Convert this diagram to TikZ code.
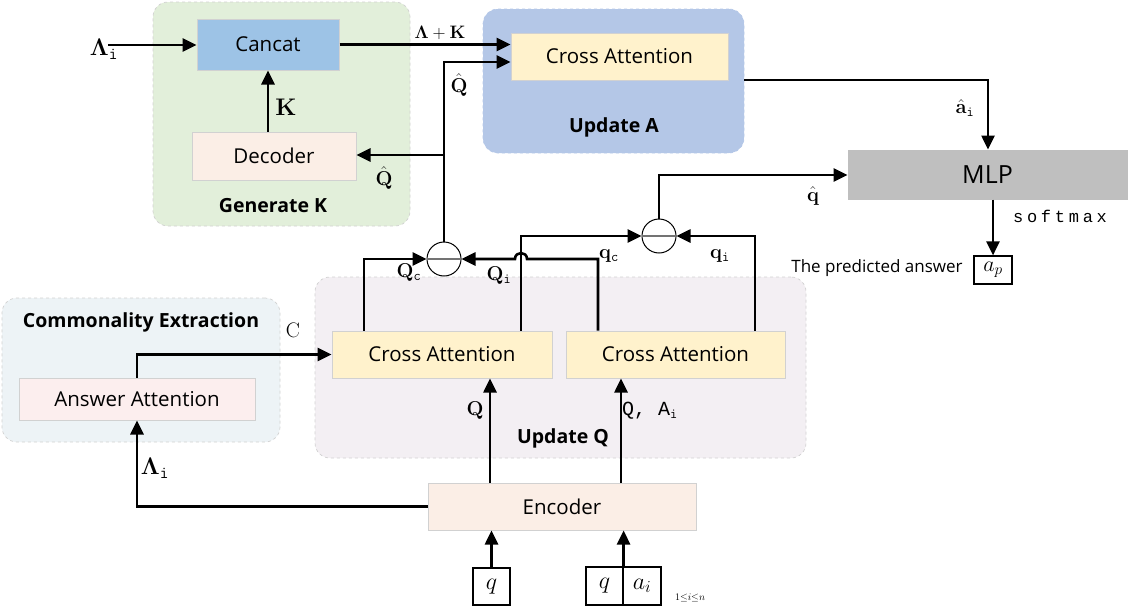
\RequirePackage{fix-cm}
\documentclass[tikz,border=0pt]{standalone}
\usepackage{amsmath}
\usepackage[no-math]{fontspec}
\setmainfont{Open Sans}
\newfontfamily\spmono{Liberation Mono}[LetterSpace=22.0]
\newfontfamily\qmono{Liberation Mono}
\usetikzlibrary{arrows.meta,calc}
\definecolor{gK}{HTML}{E2EFDA}
\definecolor{cancatC}{HTML}{9DC3E6}
\definecolor{decC}{HTML}{FBEEE6}
\definecolor{uA}{HTML}{B4C7E7}
\definecolor{caC}{HTML}{FFF2CC}
\definecolor{mlpC}{HTML}{BFBFBF}
\definecolor{uQ}{HTML}{F3EFF3}
\definecolor{ceC}{HTML}{EDF3F6}
\definecolor{ansC}{HTML}{FCEEEE}
\tikzset{
  grp/.style={rounded corners=15pt, draw=black!18, dashed, line width=0.7pt},
  blk/.style={draw=black!18, line width=1pt, inner sep=0pt, font=\fontsize{20.5}{22}\selectfont},
  ttl/.style={font=\fontsize{19.5}{21}\selectfont\bfseries},
  lbl/.style={font=\fontsize{20}{21}\selectfont, inner sep=0pt},
  big/.style={font=\fontsize{24}{25}\selectfont, inner sep=0pt},
  conn/.style={line width=2.6pt, -{Triangle[length=14pt,width=13pt]}},
  sm/.style={draw=black, line width=1.2pt, inner sep=0pt, fill=white}
}
\begin{document}
\begin{tikzpicture}[x=1pt,y=-1pt]
\useasboundingbox (0,0) rectangle (1129,608);
% groups
\node[grp, fill=gK, minimum width=257pt, minimum height=224pt] (genK) at (281.5,114) {};
\node[grp, fill=uA, minimum width=261pt, minimum height=144pt, draw=uA] (updA) at (613.5,81) {};
\node[grp, fill=uQ, minimum width=491pt, minimum height=181pt] (updQ) at (560.5,367.5) {};
\node[grp, fill=ceC, minimum width=278pt, minimum height=144pt] (comE) at (141,370) {};
% titles
\node[ttl] (tGK) at (273,206) {Generate K};
\node[ttl] (tUA) at (614,127) {Update A};
\node[ttl] (tUQ) at (563,438) {Update Q};
\node[ttl] (tCE) at (141,322) {Commonality Extraction};
% blocks
\node[blk, fill=cancatC, minimum width=142pt, minimum height=51pt] (cancat) at (268,44.5) {Cancat};
\node[blk, fill=decC, minimum width=164pt, minimum height=48pt] (decoder) at (274,156) {Decoder};
\node[blk, fill=caC, minimum width=217pt, minimum height=47pt] (caA) at (619.5,56.5) {Cross Attention};
\node[blk, fill=mlpC, draw=mlpC, minimum width=279pt, minimum height=49pt, font=\fontsize{25}{27}\selectfont] (mlp) at (987.5,174.5) {MLP};
\node[blk, fill=caC, minimum width=220pt, minimum height=47pt] (ca1) at (442,354.5) {Cross Attention};
\node[blk, fill=caC, minimum width=219pt, minimum height=47pt] (ca2) at (675.5,354.5) {Cross Attention};
\node[blk, fill=decC, minimum width=268pt, minimum height=47pt] (enc) at (562,506.5) {Encoder};
\node[blk, fill=ansC, minimum width=236pt, minimum height=42pt] (ans) at (137,399) {Answer Attention};
% small boxes
\node[sm, minimum width=38pt, minimum height=28pt, font=\fontsize{22}{22}\selectfont] (ap) at (993,270) {$a_p$};
\node[sm, minimum width=37pt, minimum height=37pt, font=\fontsize{24}{24}\selectfont] (qb) at (491.5,586.5) {$q$};
\node[sm, minimum width=37pt, minimum height=38pt, font=\fontsize{24}{24}\selectfont] (qa1) at (604.5,586) {$q$};
\node[sm, minimum width=38pt, minimum height=38pt, font=\fontsize{24}{24}\selectfont] (qa2) at (642,586) {$a_i$};
% circles
\node[circle, draw=black, line width=1pt, minimum size=34pt, inner sep=0pt, fill=white] (c1) at (444,259) {};
\node[circle, draw=black, line width=1pt, minimum size=34pt, inner sep=0pt, fill=white] (c2) at (659,236) {};
\draw[black!55, line width=1.2pt] (c1.west) -- (c1.east);
\draw[black!55, line width=1.2pt] (c2.west) -- (c2.east);
% coordinates
\coordinate (a0) at (108,45);
\coordinate (qhTop) at (444,62);
\coordinate (qhBr) at (444,155);
\coordinate (ahat) at (988,80);
\coordinate (qh) at (659,175);
\coordinate (v1) at (364,259);
\coordinate (v2) at (521,236);
\coordinate (v3) at (598,259);
\coordinate (v4) at (755,236);
\coordinate (x1) at (490,483);
\coordinate (x2) at (621,483);
% connectors
\draw[conn] (a0) -- (a0 -| cancat.west);
\draw[conn] (cancat.south |- decoder.north) -- (cancat.south);
\draw[conn] (cancat.east) -- (cancat.east -| caA.west);
\draw[conn] (c1.north) -- (qhTop) -- (qhTop -| caA.west);
\draw[conn] (qhBr) -- (qhBr -| decoder.east);
\draw[conn] (updA.east |- ahat) -- (ahat) -- (ahat |- mlp.north);
\draw[conn] (mlp.south -| ap.north) -- (ap.north);
\draw[conn] (c2.north) -- (qh) -- (qh -| mlp.west);
\draw[conn] (v1 |- ca1.north) -- (v1) -- (c1.west);
\draw[conn] (v2 |- ca1.north) -- (v2) -- (c2.west);
\draw[conn] (v4 |- ca2.north) -- (v4) -- (c2.east);
\draw[conn] (v3 |- ca2.north) -- (v3) -- ($(v2 |- v3)+(6,0)$) .. controls +(0,-8) and +(0,-8) .. ($(v2 |- v3)+(-6,0)$) -- (c1.east);
\draw[conn] (x1) -- (x1 |- ca1.south);
\draw[conn] (x2) -- (x2 |- ca2.south);
\draw[conn] (enc.west) -| (ans.south);
\draw[conn] (ans.north) |- (ca1.west);
\draw[conn] (qb.north) -- (qb.north |- enc.south);
\draw[conn] (qa1.north east) -- (qa1.north east |- enc.south);
% labels
\node[big] (lA0) at (104,49) {$\mathbf{\Lambda}_{\mathtt{i}}$};
\node[big] (lK) at (286,107) {$\mathbf{K}$};
\node[lbl, font=\fontsize{18}{19}\selectfont] (lAK) at (440,33) {$\mathbf{\Lambda}+\mathbf{K}$};
\node[lbl] (lQh1) at (459,85) {$\hat{\mathbf{Q}}$};
\node[lbl] (lQh2) at (384,178) {$\hat{\mathbf{Q}}$};
\node[lbl] (lah) at (965,108) {$\hat{\mathbf{a}}_{\mathtt{i}}$};
\node[lbl] (lqh) at (813,196) {$\hat{\mathbf{q}}$};
\node[lbl, font=\fontsize{17}{18}\selectfont\spmono] (lsm) at (1060,216) {softmax};
\node[lbl, font=\fontsize{17}{18}\selectfont] (lpa) at (877,268) {The predicted answer};
\node[lbl] (lQc) at (409,273) {$\mathbf{Q}_{\mathtt{c}}$};
\node[lbl] (lQi) at (499,276) {$\mathbf{Q}_{\mathtt{i}}$};
\node[lbl] (lqc) at (609,256) {$\mathbf{q}_{\mathtt{c}}$};
\node[lbl] (lqi) at (720,256) {$\mathbf{q}_{\mathtt{i}}$};
\node[lbl, font=\fontsize{21}{21}\selectfont] (lC) at (293,330) {$\mathrm{C}$};
\node[lbl] (lQ) at (475,411) {$\mathbf{Q}$};
\node[lbl, font=\fontsize{20}{20}\selectfont\qmono] (lQA) at (650,411) {Q, A$_{\mathtt{i}}$};
\node[big] (lAi) at (155,468) {$\mathbf{\Lambda}_{\mathtt{i}}$};
\node[lbl, font=\fontsize{10}{10}\selectfont] (lrng) at (690,598) {$1{\leq}i{\leq}n$};
\end{tikzpicture}
\end{document}
